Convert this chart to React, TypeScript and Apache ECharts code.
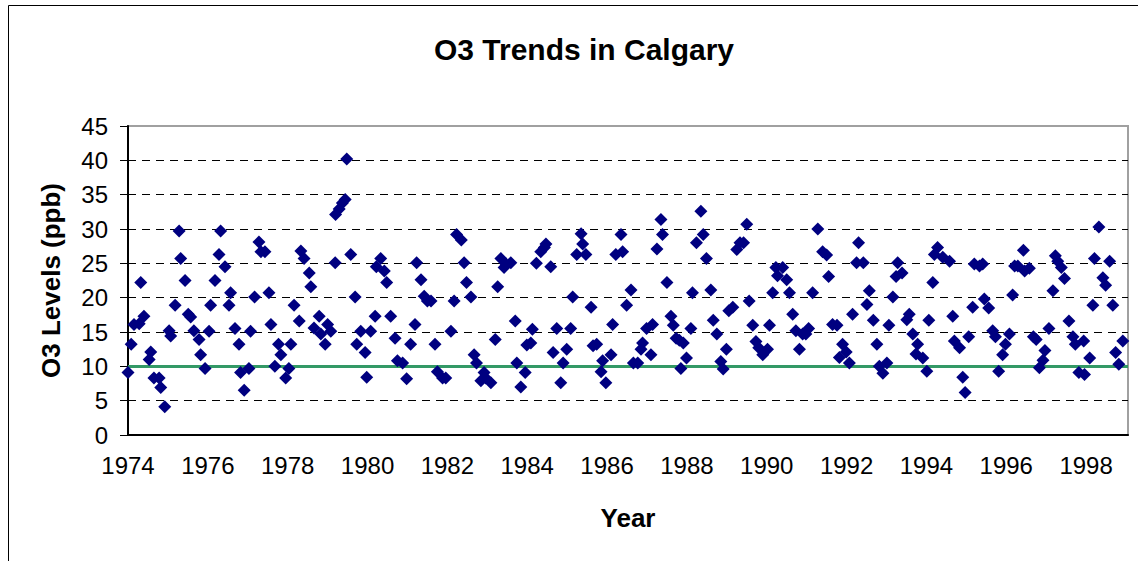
import React, { useEffect, useRef } from "react";
import * as echarts from "echarts";

const FONT = "'Liberation Sans', Arial, Helvetica, sans-serif";

const TITLE = "O3 Trends in Calgary";
const X_NAME = "Year";
const Y_NAME = "O3 Levels (ppb)";
const GUIDELINE = 10;

// sample dates (decimal years)
const years: number[] = [
  1974.0, 1974.08, 1974.15, 1974.28, 1974.32, 1974.4, 1974.53, 1974.57, 1974.65, 1974.78, 1974.82, 1974.92,
  1975.03, 1975.07, 1975.18, 1975.28, 1975.32, 1975.43, 1975.51, 1975.57, 1975.65, 1975.78, 1975.82, 1975.93,
  1976.03, 1976.07, 1976.18, 1976.28, 1976.32, 1976.43, 1976.53, 1976.57, 1976.68, 1976.78, 1976.82, 1976.91,
  1977.03, 1977.07, 1977.17, 1977.28, 1977.33, 1977.43, 1977.53, 1977.58, 1977.68, 1977.77, 1977.83, 1977.95,
  1978.03, 1978.08, 1978.16, 1978.29, 1978.33, 1978.41, 1978.54, 1978.58, 1978.66, 1978.79, 1978.83, 1978.94,
  1979.0, 1979.08, 1979.19, 1979.2, 1979.29, 1979.37, 1979.44, 1979.48, 1979.58, 1979.69, 1979.73, 1979.83, 1979.94, 1979.98,
  1980.08, 1980.19, 1980.22, 1980.33, 1980.42, 1980.48, 1980.58, 1980.69, 1980.75, 1980.88, 1980.98,
  1981.08, 1981.19, 1981.23, 1981.34, 1981.42, 1981.5, 1981.59, 1981.69, 1981.75, 1981.88, 1981.96,
  1982.09, 1982.17, 1982.23, 1982.35, 1982.42, 1982.48, 1982.59, 1982.67, 1982.73, 1982.84, 1982.92, 1982.96,
  1983.09, 1983.2, 1983.26, 1983.34, 1983.42, 1983.47, 1983.59, 1983.7, 1983.74, 1983.84, 1983.95, 1983.99,
  1984.09, 1984.13, 1984.23, 1984.34, 1984.43, 1984.47, 1984.59, 1984.65, 1984.74, 1984.84, 1984.9, 1984.99,
  1985.09, 1985.14, 1985.24, 1985.35, 1985.39, 1985.47, 1985.6, 1985.65, 1985.74, 1985.85, 1985.89, 1985.97,
  1986.1, 1986.14, 1986.22, 1986.35, 1986.39, 1986.49, 1986.6, 1986.66, 1986.77, 1986.85, 1986.89, 1986.99,
  1987.1, 1987.14, 1987.25, 1987.35, 1987.39, 1987.5, 1987.6, 1987.66, 1987.73, 1987.81, 1987.85, 1987.91, 1987.99,
  1988.1, 1988.14, 1988.24, 1988.35, 1988.41, 1988.49, 1988.6, 1988.66, 1988.75, 1988.85, 1988.91, 1988.99,
  1989.05, 1989.15, 1989.25, 1989.33, 1989.42, 1989.5, 1989.56, 1989.65, 1989.73, 1989.8, 1989.9,
  1990.02, 1990.07, 1990.15, 1990.23, 1990.27, 1990.4, 1990.5, 1990.57, 1990.65, 1990.73, 1990.82, 1990.9, 1990.98,
  1991.05, 1991.15, 1991.28, 1991.4, 1991.5, 1991.55, 1991.65, 1991.76, 1991.82, 1991.9, 1991.99,
  1992.07, 1992.15, 1992.25, 1992.3, 1992.42, 1992.51, 1992.57, 1992.67, 1992.76, 1992.82, 1992.91,
  1993.01, 1993.06, 1993.16, 1993.24, 1993.28, 1993.39, 1993.51, 1993.57, 1993.66, 1993.74, 1993.78, 1993.91,
  1994.01, 1994.06, 1994.16, 1994.2, 1994.28, 1994.41, 1994.58, 1994.66, 1994.7, 1994.83, 1994.91, 1994.97,
  1995.06, 1995.16, 1995.2, 1995.33, 1995.41, 1995.45, 1995.56, 1995.66, 1995.73, 1995.81, 1995.91, 1995.98,
  1996.08, 1996.16, 1996.21, 1996.29, 1996.43, 1996.46, 1996.58, 1996.68, 1996.75, 1996.83, 1996.92, 1996.97,
  1997.07, 1997.17, 1997.23, 1997.29, 1997.38, 1997.46, 1997.57, 1997.67, 1997.73, 1997.82, 1997.94, 1997.96,
  1998.09, 1998.17, 1998.21, 1998.32, 1998.42, 1998.49, 1998.59, 1998.67, 1998.74, 1998.82, 1998.92,
];

// O3 levels (ppb)
const levels: number[] = [
  9.1, 13.2, 16.1, 16.2, 22.2, 17.3, 11.0, 12.1, 8.3, 8.3, 6.9, 4.1,
  15.2, 14.4, 18.9, 29.7, 25.7, 22.5, 17.6, 17.2, 15.2, 13.9, 11.7, 9.7,
  15.1, 18.9, 22.5, 26.3, 29.7, 24.5, 18.9, 20.7, 15.5, 13.2, 9.1, 6.5,
  9.7, 15.1, 20.1, 28.1, 26.7, 26.7, 20.7, 16.1, 10.0, 13.2, 11.7, 8.3,
  9.7, 13.2, 18.9, 16.6, 26.8, 25.7, 23.6, 21.6, 15.6, 17.3, 14.7, 13.2,
  16.1, 15.1, 25.1, 32.1, 32.9, 33.8, 34.3, 40.2, 26.3, 20.1, 13.2, 15.1, 12.0, 8.4,
  15.1, 17.3, 24.5, 25.7, 23.9, 22.2, 17.3, 14.1, 10.8, 10.5, 8.2,
  13.2, 16.1, 25.1, 22.6, 20.2, 19.5, 19.5, 13.2, 9.2, 8.3, 8.3,
  15.1, 19.5, 29.2, 28.4, 25.1, 22.2, 20.1, 11.7, 10.5, 7.9, 9.1, 8.3,
  7.6, 13.9, 21.6, 25.7, 24.4, 24.9, 25.1, 16.6, 10.5, 7.0, 9.1, 13.1,
  13.4, 15.4, 25.0, 26.7, 27.3, 27.8, 24.5, 12.0, 15.5, 7.6, 10.5, 12.5,
  15.5, 20.1, 26.3, 29.3, 27.8, 26.3, 18.6, 13.0, 13.2, 9.2, 10.8, 7.6,
  11.7, 16.1, 26.3, 29.2, 26.7, 18.9, 21.1, 10.5, 10.5, 12.5, 13.4, 15.5,
  11.7, 16.1, 27.1, 31.4, 29.2, 22.2, 17.3, 16.0, 14.1, 13.8, 9.7, 13.4, 11.2,
  15.5, 20.7, 28.0, 32.6, 29.2, 25.7, 21.1, 16.7, 14.7, 10.7, 9.6, 12.5,
  18.1, 18.6, 27.0, 28.0, 28.0, 30.7, 19.5, 16.0, 13.6, 12.7, 11.7,
  12.5, 16.0, 20.7, 24.4, 23.2, 24.4, 22.6, 20.7, 17.6, 15.2, 12.5, 14.7, 14.7,
  15.5, 20.7, 30.0, 26.7, 26.2, 23.1, 16.1, 16.0, 11.3, 13.2, 12.1,
  10.5, 17.6, 25.1, 28.0, 25.1, 19.0, 21.0, 16.7, 13.2, 10.0, 9.0,
  10.5, 16.0, 20.1, 23.1, 25.1, 23.6, 16.8, 17.6, 14.7, 11.8, 13.2, 11.2,
  9.3, 16.7, 22.2, 26.3, 27.3, 25.9, 25.3, 17.3, 13.7, 12.7, 8.4, 6.2,
  14.3, 18.6, 24.9, 24.6, 24.9, 19.8, 18.5, 15.2, 14.3, 9.3, 11.7, 13.2,
  14.7, 20.4, 24.6, 24.6, 26.9, 23.9, 24.3, 14.3, 13.9, 9.8, 10.9, 12.3,
  15.5, 21.0, 26.1, 25.3, 24.4, 22.8, 16.6, 14.3, 13.2, 9.1, 13.7, 8.8,
  11.2, 18.9, 25.7, 30.3, 22.9, 21.8, 25.3, 18.9, 12.0, 10.3, 13.7,
];

export default function App() {
  const ref = useRef<HTMLDivElement>(null);

  useEffect(() => {
    if (!ref.current) return;
    const chart = echarts.init(ref.current, undefined, { renderer: "svg" });
    const data = years.map((y, i) => [y, levels[i]]);
    const splitColors = Array.from({ length: 10 }, (_, i) => (i === 9 ? "rgba(0,0,0,0)" : "#000"));

    chart.setOption({
      animation: false,
      backgroundColor: "#ffffff",
      textStyle: { fontFamily: FONT },
      title: {
        text: TITLE,
        left: 579,
        top: 29,
        textAlign: "center",
        textStyle: { fontSize: 30, fontWeight: "bold", color: "#000", fontFamily: FONT },
      },
      graphic: [
        {
          type: "rect",
          silent: true,
          z: -1,
          shape: { x: 8.5, y: 5.5, width: 1300, height: 800 },
          style: { fill: "none", stroke: "#000", lineWidth: 1 },
        },
      ],
      grid: {
        left: 128,
        top: 126,
        right: 10,
        bottom: 126,
        show: true,
        borderColor: "#a0a0a0",
        borderWidth: 2,
        backgroundColor: "transparent",
      },
      xAxis: {
        type: "value",
        min: 1974,
        max: 1999.05,
        interval: 2,
        name: X_NAME,
        nameLocation: "middle",
        nameGap: 70,
        nameTextStyle: { fontSize: 26, fontWeight: "bold", color: "#000", fontFamily: FONT },
        axisLine: { show: true, onZero: false, lineStyle: { color: "#000", width: 2 } },
        axisTick: { show: false },
        splitLine: { show: false },
        axisLabel: {
          fontSize: 24,
          color: "#000",
          margin: 18,
          fontFamily: FONT,
          formatter: (v: number) => {
            const r = Math.round(v);
            return Math.abs(v - r) < 1e-6 && r % 2 === 0 ? String(r) : "";
          },
        },
      },
      yAxis: {
        type: "value",
        min: 0,
        max: 45,
        interval: 5,
        name: Y_NAME,
        nameLocation: "middle",
        nameRotate: 90,
        nameGap: 64,
        nameTextStyle: { fontSize: 26, fontWeight: "bold", color: "#000", fontFamily: FONT },
        axisLine: { show: true, lineStyle: { color: "#000", width: 2 } },
        axisTick: { show: true, length: 8, lineStyle: { color: "#000", width: 1 } },
        splitLine: { show: true, lineStyle: { color: splitColors, width: 1, type: [8, 6] } },
        axisLabel: { fontSize: 24, color: "#000", margin: 20, fontFamily: FONT },
      },
      series: [
        {
          type: "scatter",
          symbol: "diamond",
          symbolSize: 13,
          itemStyle: { color: "#000080", opacity: 1 },
          data,
          z: 3,
          markLine: {
            silent: true,
            symbol: "none",
            label: { show: false },
            lineStyle: { color: "#339966", width: 3, type: "solid", opacity: 1 },
            data: [{ yAxis: GUIDELINE }],
            z: 2,
          },
        },
      ],
    });

    return () => chart.dispose();
  }, []);

  return (
    <div
      ref={ref}
      style={{ position: "fixed", left: 0, top: 0, width: 1138, height: 561, background: "#fff" }}
    />
  );
}
